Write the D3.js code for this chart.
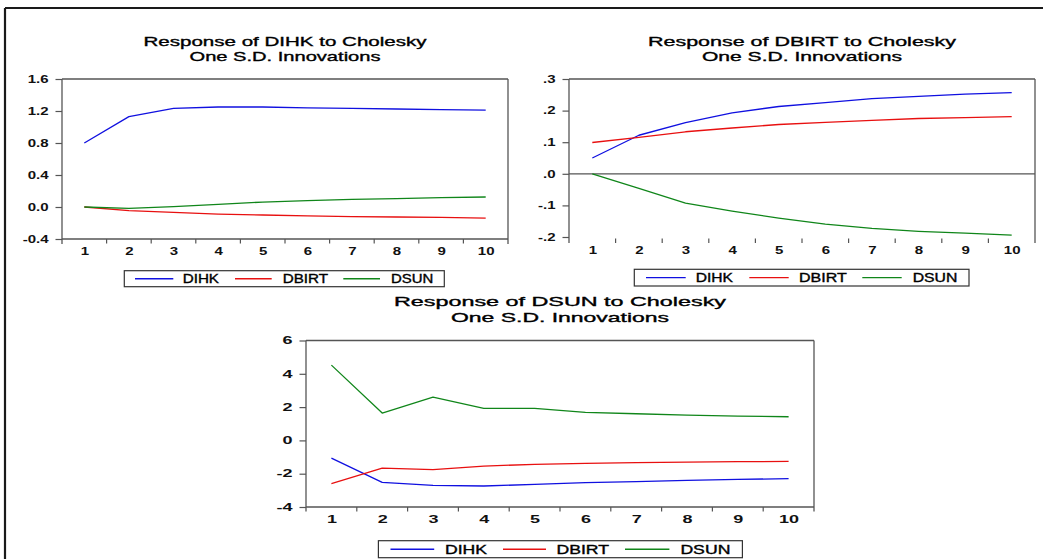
<!DOCTYPE html>
<html>
<head>
<meta charset="utf-8">
<script src="https://cdn.jsdelivr.net/npm/d3@7"></script>
<style>
  html, body { margin: 0; padding: 0; background: #fff; }
  svg { display: block; font-family: "Liberation Sans", Arial, sans-serif; }
</style>
</head>
<body>
<svg id="chart" width="1043" height="559"></svg>
<script>
// ---------------- DATA ----------------
const periods = [1, 2, 3, 4, 5, 6, 7, 8, 9, 10];
const seriesNames = ["DIHK", "DBIRT", "DSUN"];
const seriesColors = ["#1010e0", "#e81010", "#10861a"];

// Response of DIHK
const dihkToDIHK  = [0.80, 1.13, 1.233, 1.25, 1.25, 1.24, 1.233, 1.225, 1.217, 1.21];
const dihkToDBIRT = [0.0, -0.046, -0.067, -0.088, -0.10, -0.112, -0.12, -0.125, -0.13, -0.138];
const dihkToDSUN  = [0.0, -0.017, 0.004, 0.033, 0.062, 0.079, 0.096, 0.104, 0.117, 0.125];

// Response of DBIRT
const dbirtToDIHK  = [0.050, 0.122, 0.162, 0.193, 0.213, 0.225, 0.238, 0.245, 0.252, 0.257];
const dbirtToDBIRT = [0.099, 0.115, 0.133, 0.145, 0.156, 0.163, 0.169, 0.175, 0.178, 0.181];
const dbirtToDSUN  = [0.0, -0.046, -0.093, -0.118, -0.140, -0.159, -0.173, -0.182, -0.188, -0.194];

// Response of DSUN
const dsunToDIHK  = [-1.06, -2.52, -2.70, -2.74, -2.64, -2.54, -2.48, -2.40, -2.34, -2.30];
const dsunToDBIRT = [-2.60, -1.66, -1.76, -1.54, -1.44, -1.38, -1.34, -1.30, -1.28, -1.26];
const dsunToDSUN  = [4.52, 1.64, 2.60, 1.92, 1.92, 1.68, 1.60, 1.52, 1.46, 1.42];

const ticksDIHK  = [-0.4, 0.0, 0.4, 0.8, 1.2, 1.6];
const labelsDIHK = ["-0.4", "0.0", "0.4", "0.8", "1.2", "1.6"];
const ticksDBIRT  = [-0.2, -0.1, 0.0, 0.1, 0.2, 0.3];
const labelsDBIRT = ["-.2", "-.1", ".0", ".1", ".2", ".3"];
const ticksDSUN  = [-4, -2, 0, 2, 4, 6];
const labelsDSUN = ["-4", "-2", "0", "2", "4", "6"];

const titlesLine1 = ["Response of DIHK to Cholesky", "Response of DBIRT to Cholesky", "Response of DSUN to Cholesky"];
const titleLine2 = "One S.D. Innovations";

// ---------------- LAYOUT ----------------
const panels = [
  { series: [dihkToDIHK, dihkToDBIRT, dihkToDSUN], ticks: ticksDIHK, labels: labelsDIHK, title: titlesLine1[0],
    x0: 62, x1: 508, yTop: 79, yBot: 239, frameBot: 239, axisExt: 244, bottomLine: true, zeroLine: false,
    tickTop: 239, tickBot: 243.5,
    titleX: 285, titleY: [46, 61], titleW: [283, 191], tStretch: 1.5,
    legend: { x: 124.3, y: 270.7, w: 320, h: 16, lines: [[135, 173.3], [235, 271.7], [343.3, 380]], tx: [182.7, 282.7, 391], tw: [36.3, 45.3, 42.3] } },
  { series: [dbirtToDIHK, dbirtToDBIRT, dbirtToDSUN], ticks: ticksDBIRT, labels: labelsDBIRT, title: titlesLine1[1],
    x0: 569, x1: 1035, yTop: 79, yBot: 237, frameBot: 243, axisExt: 243, bottomLine: false, zeroLine: true,
    tickTop: 238.5, tickBot: 243,
    titleX: 802, titleY: [46, 61], titleW: [308, 200], tStretch: 1.5,
    legend: { x: 634.3, y: 269.3, w: 334.7, h: 16.7, lines: [[646, 685.7], [749.3, 788.7], [862.3, 901.7]], tx: [695.7, 799, 912.7], tw: [37.3, 47.7, 44.7] } },
  { series: [dsunToDIHK, dsunToDBIRT, dsunToDSUN], ticks: ticksDSUN, labels: labelsDSUN, title: titlesLine1[2],
    x0: 306, x1: 814, yTop: 340.5, yBot: 507, frameBot: 507, axisExt: 511.5, bottomLine: true, zeroLine: false,
    tickTop: 507, tickBot: 511.5,
    titleX: 560, titleY: [305.5, 321.5], titleW: [332, 218], tStretch: 1.8,
    legend: { x: 378.4, y: 540.7, w: 364, h: 17, lines: [[390.5, 434.2], [503, 546], [625, 669.4]], tx: [445, 556.5, 680.4], tw: [42, 52.5, 50] } }
];

const svg = d3.select("#chart");
const axisColor = "#555";

// outer frame
svg.append("line").attr("x1", 5).attr("x2", 1043).attr("y1", 8).attr("y2", 8)
  .attr("stroke", "#1a1a1a").attr("stroke-width", 2.2);
svg.append("line").attr("x1", 5).attr("x2", 5).attr("y1", 8).attr("y2", 559)
  .attr("stroke", "#1a1a1a").attr("stroke-width", 2.2);

function stretch(sel, factor) {
  sel.each(function () {
    const w = this.getComputedTextLength();
    d3.select(this).attr("textLength", w * factor).attr("lengthAdjust", "spacingAndGlyphs");
  });
}

panels.forEach(p => {
  const g = svg.append("g");
  const x = d3.scaleLinear().domain([0.5, 10.5]).range([p.x0, p.x1]);
  const y = d3.scaleLinear().domain([p.ticks[0], p.ticks[p.ticks.length - 1]]).range([p.yBot, p.yTop]);

  // frame
  g.append("line").attr("x1", p.x0).attr("x2", p.x1).attr("y1", p.yTop).attr("y2", p.yTop)
    .attr("stroke", axisColor).attr("stroke-width", 1.3);
  g.append("line").attr("x1", p.x1).attr("x2", p.x1).attr("y1", p.yTop).attr("y2", p.axisExt)
    .attr("stroke", axisColor).attr("stroke-width", 1.3);
  if (p.bottomLine) {
    g.append("line").attr("x1", p.x0).attr("x2", p.x1).attr("y1", p.frameBot).attr("y2", p.frameBot)
      .attr("stroke", axisColor).attr("stroke-width", 1.3);
  }
  if (p.zeroLine) {
    g.append("line").attr("x1", p.x0).attr("x2", p.x1).attr("y1", y(0)).attr("y2", y(0))
      .attr("stroke", axisColor).attr("stroke-width", 1.2);
  }

  // y axis
  const yAxis = d3.axisLeft(y).tickValues(p.ticks).tickSize(6.5).tickPadding(7)
    .tickFormat((d, i) => p.labels[i]);
  const ya = g.append("g").attr("transform", `translate(${p.x0},0)`).call(yAxis);
  ya.select(".domain").remove();
  ya.selectAll(".tick line").attr("stroke", axisColor).attr("stroke-width", 1.2);
  ya.selectAll(".tick text").attr("fill", "#111").style("font-size", "10px").style("font-weight", "bold")
    .style("font-family", "'Liberation Sans', Arial, sans-serif");
  stretch(ya.selectAll(".tick text"), p.tStretch);
  g.append("line").attr("x1", p.x0).attr("x2", p.x0).attr("y1", p.yTop).attr("y2", p.axisExt)
    .attr("stroke", axisColor).attr("stroke-width", 1.3);

  // x tick marks at period boundaries
  const bounds = d3.range(1.5, 10.5, 1);
  g.selectAll(".xtick").data(bounds).enter().append("line")
    .attr("x1", d => x(d)).attr("x2", d => x(d))
    .attr("y1", p.tickTop).attr("y2", p.tickBot)
    .attr("stroke", axisColor).attr("stroke-width", 1.2);

  // x labels at period centres
  const xAxis = d3.axisBottom(x).tickValues(periods).tickSize(0).tickPadding(0).tickFormat(d3.format("d"));
  const xa = g.append("g").attr("transform", `translate(0,${p.tickBot + 4})`).call(xAxis);
  xa.select(".domain").remove();
  xa.selectAll(".tick text").attr("fill", "#111").attr("dy", "0.71em").style("font-size", "10px").style("font-weight", "bold")
    .style("font-family", "'Liberation Sans', Arial, sans-serif");
  stretch(xa.selectAll(".tick text"), p.tStretch);

  // series lines
  const line = d3.line().x((d, i) => x(periods[i])).y(d => y(d));
  p.series.forEach((s, i) => {
    g.append("path").datum(s).attr("d", line).attr("fill", "none")
      .attr("stroke", seriesColors[i]).attr("stroke-width", 1.3).attr("stroke-linejoin", "round");
  });

  // title
  [p.title, titleLine2].forEach((t, i) => {
    g.append("text").attr("x", p.titleX - p.titleW[i] / 2).attr("y", p.titleY[i])
      .attr("textLength", p.titleW[i]).attr("lengthAdjust", "spacingAndGlyphs")
      .style("font-size", "13px").attr("fill", "#000")
      .attr("stroke", "#000").attr("stroke-width", 0.35).text(t);
  });

  // legend
  const L = p.legend;
  g.append("rect").attr("x", L.x).attr("y", L.y).attr("width", L.w).attr("height", L.h)
    .attr("fill", "#fff").attr("stroke", "#333").attr("stroke-width", 1.2);
  const cy = L.y + L.h / 2;
  seriesNames.forEach((n, i) => {
    g.append("line").attr("x1", L.lines[i][0]).attr("x2", L.lines[i][1]).attr("y1", cy).attr("y2", cy)
      .attr("stroke", seriesColors[i]).attr("stroke-width", 1.4);
    g.append("text").attr("x", L.tx[i]).attr("y", cy + 4.3)
      .attr("textLength", L.tw[i]).attr("lengthAdjust", "spacingAndGlyphs")
      .style("font-size", "12px").attr("fill", "#000")
      .attr("stroke", "#000").attr("stroke-width", 0.35).text(n);
  });
});
</script>
</body>
</html>
